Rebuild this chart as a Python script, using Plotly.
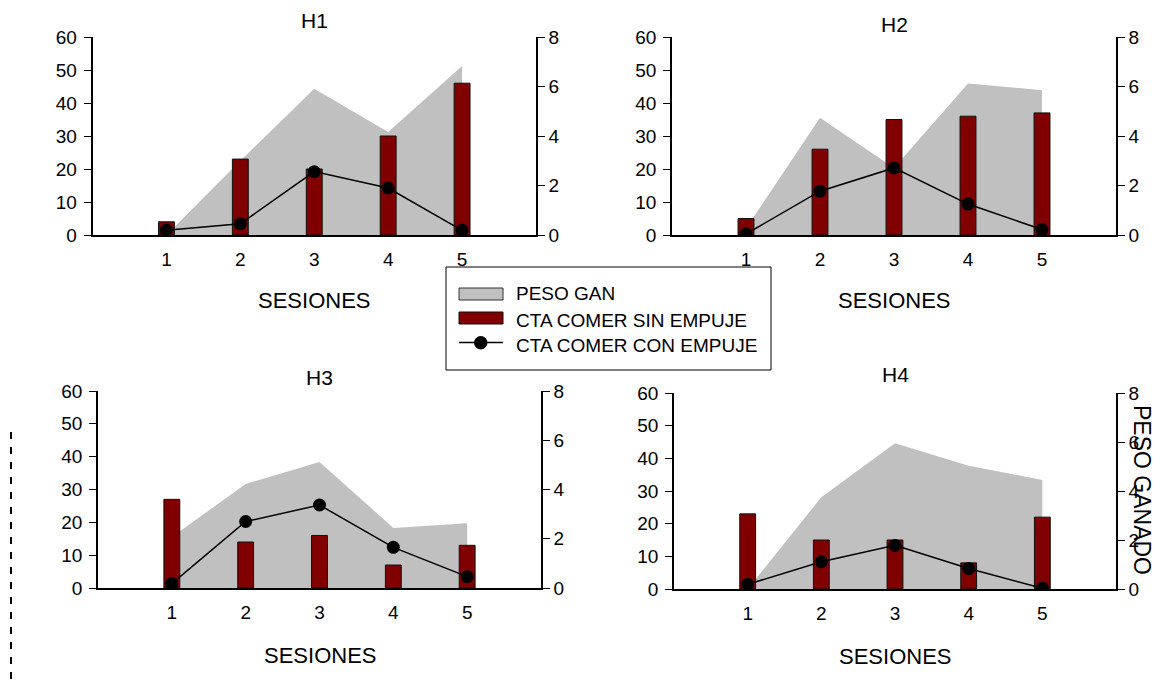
import plotly.graph_objects as go

W, H = 1155, 681

sesiones = [1, 2, 3, 4, 5]
x_tick_labels = ["1", "2", "3", "4", "5"]
panel_names = ["H1", "H2", "H3", "H4"]

# PESO GAN (grey area, left axis 0-60)
peso_h1 = [0.0, 22.5, 44.3, 31.2, 51.2]
peso_h2 = [2.0, 35.5, 20.3, 45.9, 43.9]
peso_h3 = [15.5, 31.7, 38.4, 18.3, 19.7]
peso_h4 = [0.0, 28.1, 44.6, 37.7, 33.4]

# CTA COMER SIN EMPUJE (bars, left axis 0-60)
sin_h1 = [4, 23, 20, 30, 46]
sin_h2 = [5, 26, 35, 36, 37]
sin_h3 = [27, 14, 16, 7, 13]
sin_h4 = [23, 15, 15, 8, 22]

# CTA COMER CON EMPUJE (line, right axis 0-8)
con_h1 = [0.19, 0.45, 2.56, 1.90, 0.19]
con_h2 = [0.04, 1.77, 2.71, 1.25, 0.22]
con_h3 = [0.18, 2.70, 3.37, 1.65, 0.46]
con_h4 = [0.19, 1.11, 1.78, 0.84, 0.03]

peso = [peso_h1, peso_h2, peso_h3, peso_h4]
sin = [sin_h1, sin_h2, sin_h3, sin_h4]
con = [con_h1, con_h2, con_h3, con_h4]

FONT = "Arial, Liberation Sans, sans-serif"
GREY = "#C0C0C0"
RED = "#800000"
TICK_FS = 19

# panel pixel boxes: (left, right, top, bottom)
boxes = [(92.5, 536, 37, 235), (672, 1116, 37, 235), (98, 541, 391, 588), (674, 1116, 393, 589)]
title_y = [20, 24, 377, 375]
sesiones_y = [300, 300, 655, 656]

def px(x):
    return x / W

def py(y):
    return 1 - y / H

fig = go.Figure()
layout = dict(
    width=W, height=H, margin=dict(l=0, r=0, t=0, b=0, autoexpand=False),
    paper_bgcolor="white", plot_bgcolor="rgba(0,0,0,0)",
    showlegend=False, font=dict(family=FONT, color="black", size=TICK_FS),
)
annotations = []
shapes = []

for i in range(4):
    xa = "x" if i == 0 else f"x{i+1}"
    ya = "y" if i == 0 else f"y{3*i+1}"   # area, visible left axis
    yb = f"y{3*i+2}"                      # bars, hidden overlay
    yr = f"y{3*i+3}"                      # line, right axis
    l, r, t, b = boxes[i]
    fig.add_trace(go.Scatter(x=sesiones, y=peso[i], mode="none", fill="tozeroy",
                             fillcolor=GREY, xaxis=xa, yaxis=ya, name="PESO GAN"))
    fig.add_trace(go.Bar(x=sesiones, y=sin[i], width=0.215,
                         marker=dict(color=RED, line=dict(color="#111", width=1)),
                         xaxis=xa, yaxis=yb, name="CTA COMER SIN EMPUJE"))
    fig.add_trace(go.Scatter(x=sesiones, y=con[i], mode="lines+markers",
                             line=dict(color="black", width=1.5),
                             marker=dict(color="black", size=13),
                             xaxis=xa, yaxis=yr, name="CTA COMER CON EMPUJE"))
    xkey = "xaxis" if i == 0 else f"xaxis{i+1}"
    yakey = "yaxis" if i == 0 else f"yaxis{3*i+1}"
    ybkey = f"yaxis{3*i+2}"
    yrkey = f"yaxis{3*i+3}"
    dom_y = [py(b), py(t)]
    layout[xkey] = dict(domain=[px(l), px(r)], anchor=ya, range=[0, 6],
                        tickvals=sesiones, ticktext=x_tick_labels,
                        showline=True, linecolor="black", linewidth=1.5,
                        ticks="outside", ticklen=6, tickcolor="rgba(0,0,0,0)",
                        showgrid=False, zeroline=False, automargin=False,
                        tickfont=dict(size=TICK_FS))
    layout[yakey] = dict(domain=dom_y, anchor=xa, range=[0, 60], dtick=10,
                         showline=True, linecolor="black", linewidth=1.5,
                         ticks="outside", ticklen=7, tickcolor="black",
                         ticklabelstandoff=3,
                         showgrid=False, zeroline=False, automargin=False,
                         tickfont=dict(size=TICK_FS))
    layout[ybkey] = dict(domain=dom_y, anchor=xa, overlaying=ya, range=[0, 60],
                         visible=False, showgrid=False, zeroline=False, automargin=False)
    layout[yrkey] = dict(domain=dom_y, anchor=xa, overlaying=ya, side="right",
                         range=[0, 8], dtick=2,
                         showline=True, linecolor="black", linewidth=1.5,
                         ticks="outside", ticklen=7, tickcolor="black",
                         showgrid=False, zeroline=False, automargin=False,
                         tickfont=dict(size=TICK_FS))
    cx = (l + r) / 2
    annotations.append(dict(text=panel_names[i], x=px(cx), y=py(title_y[i]), xref="paper", yref="paper",
                            showarrow=False, font=dict(size=21), xanchor="center", yanchor="middle"))
    annotations.append(dict(text="SESIONES", x=px(cx), y=py(sesiones_y[i]), xref="paper", yref="paper",
                            showarrow=False, font=dict(size=22), xanchor="center", yanchor="middle"))

# right axis title
annotations.append(dict(text="PESO GANADO", x=px(1142), y=py(490), xref="paper", yref="paper",
                        showarrow=False, textangle=90, font=dict(size=23),
                        xanchor="center", yanchor="middle"))

# custom legend box
shapes.append(dict(type="rect", xref="paper", yref="paper", x0=px(446), x1=px(771), y0=py(370), y1=py(267),
                   line=dict(color="black", width=1), fillcolor="white", layer="above"))
shapes.append(dict(type="rect", xref="paper", yref="paper", x0=px(459), x1=px(503), y0=py(300), y1=py(288),
                   line=dict(color="#333", width=1), fillcolor=GREY, layer="above"))
shapes.append(dict(type="rect", xref="paper", yref="paper", x0=px(459), x1=px(503), y0=py(324), y1=py(312),
                   line=dict(color="#111", width=1), fillcolor=RED, layer="above"))
shapes.append(dict(type="line", xref="paper", yref="paper", x0=px(459), x1=px(503), y0=py(342.5), y1=py(342.5),
                   line=dict(color="black", width=1.5), layer="above"))
shapes.append(dict(type="circle", xref="paper", yref="paper", x0=px(474.5), x1=px(487), y0=py(349), y1=py(336.5),
                   line=dict(color="black", width=1), fillcolor="black", layer="above"))
leg_texts = ["PESO GAN", "CTA COMER SIN EMPUJE", "CTA COMER CON EMPUJE"]
leg_y = [293, 320, 346]
for txt, yy in zip(leg_texts, leg_y):
    annotations.append(dict(text=txt, x=px(514), y=py(yy), xref="paper", yref="paper",
                            showarrow=False, font=dict(size=19), xanchor="left", yanchor="middle"))

# clipped artefact at the left edge
shapes.append(dict(type="line", xref="paper", yref="paper", x0=px(11), x1=px(11), y0=py(432), y1=py(681),
                   line=dict(color="black", width=2, dash="7px,8px")))

layout["annotations"] = annotations
layout["shapes"] = shapes
fig.update_layout(**layout)

fig.write_html("out.html", config={"displayModeBar": False},
               post_script="document.body.style.margin='0';")
